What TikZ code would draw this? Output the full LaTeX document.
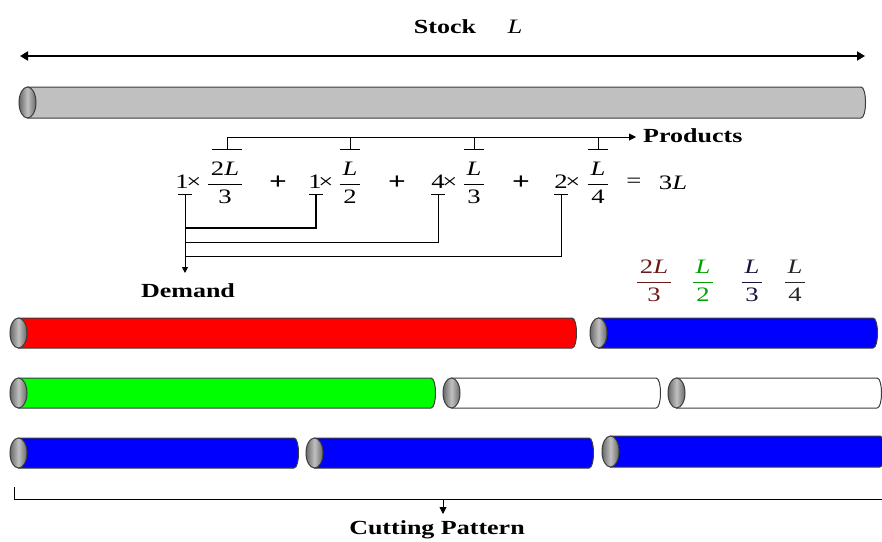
\documentclass[tikz,border=0pt]{standalone}
\usepackage{fontspec}
\setmainfont{Liberation Serif}[FakeStretch=1.3]
\usetikzlibrary{arrows.meta,calc}
\definecolor{edge}{RGB}{60,60,60}
\definecolor{capgray}{RGB}{130,130,130}
\definecolor{stockgray}{RGB}{192,192,192}
\definecolor{maroon}{RGB}{110,25,25}
\definecolor{lgreen}{RGB}{0,160,0}
\definecolor{navy}{RGB}{20,20,60}
\newcommand{\frc}[2]{$\displaystyle\frac{\mbox{\hspace{3pt}#1\hspace{3pt}}}{\mbox{#2}}$}
\newcommand{\tube}[5]{%
  \pgfmathsetmacro\tmid{(#3+#4)/2}%
  \pgfmathsetmacro\trad{(#4-#3)/2}%
  \draw[tubeline, fill=#5] (#1+8.5,#3) -- (#2-6,#3) .. controls (#2,#3) and (#2,#4) .. (#2-6,#4) -- (#1+8.5,#4) -- cycle;
  \draw[capline] (#1+8.5,\tmid) ellipse [x radius=8.5, y radius=\trad];
}
\tikzset{
  tubeline/.style={draw=edge, line width=1pt},
  capline/.style={draw=edge, line width=1pt, left color=capgray!80!black, right color=capgray!80!black, middle color=capgray!50!white},
  lbl/.style={font=\fontsize{20}{22}\selectfont\bfseries, inner sep=0pt},
  eq/.style={font=\fontsize{20.5}{23}\selectfont, inner sep=0pt},
  plus/.style={font=\fontsize{24}{26}\selectfont\bfseries, inner sep=0pt},
  thinl/.style={line width=0.9pt},
  tip/.style={-{Triangle[length=7pt,width=7pt]}},
}
\begin{document}
\begin{tikzpicture}[x=1pt,y=-1pt]
\useasboundingbox (0,0) rectangle (882,541);
% Stock
\node[lbl] (stock) at (445,27) {Stock};
\node[eq] (Lstock) at (515,27) {\textit{L}};
\coordinate (aL) at (20,56);
\coordinate (aR) at (865,56);
\draw[line width=1.8pt, {Triangle[length=8pt,width=9pt]}-{Triangle[length=8pt,width=9pt]}] (aL) -- (aR);
\tube{19}{867}{87}{118}{stockgray}
% equation
\node[eq] (c1) at (182,182) {1};
\node[eq] (x1) at (194,183) {×};
\node[eq] (f1) at (225,183) {\frc{2\textit{L}}{3}};
\node[plus] (pl1) at (278,183) {+};
\node[eq] (c2) at (315,182) {1};
\node[eq] (x2) at (326,183) {×};
\node[eq] (f2) at (350,183) {\frc{\textit{L}}{2}};
\node[plus] (pl2) at (397,183) {+};
\node[eq] (c3) at (438,182) {4};
\node[eq] (x3) at (450,183) {×};
\node[eq] (f3) at (474,183) {\frc{\textit{L}}{3}};
\node[plus] (pl3) at (521,183) {+};
\node[eq] (c4) at (561,182) {2};
\node[eq] (x4) at (573,183) {×};
\node[eq] (f4) at (598,183) {\frc{\textit{L}}{4}};
\node[eq] (eqs) at (634,183) {=};
\node[eq] (tot) at (673,183) {3\textit{L}};
% products
\coordinate (p1) at (227,137);
\coordinate (p2) at (350,137);
\coordinate (p3) at (474,137);
\coordinate (p4) at (598,137);
\coordinate (pend) at (636,137);
\node[lbl, anchor=west] (prod) at (643,136) {Products};
\draw[thinl, tip] (p1) -- (pend);
\foreach \p/\w in {p1/15, p2/10, p3/10, p4/10}{
  \draw[thinl] (\p) -- ++(0,12);
  \draw[thinl] ($(\p)+(-\w,12)$) -- ($(\p)+(\w,12)$);
}
% demand
\coordinate (d1) at (185,194);
\coordinate (d2) at (316,194);
\coordinate (d3) at (438,194);
\coordinate (d4) at (561,194);
\coordinate (dend) at (185,273);
\foreach \d in {d1,d2,d3,d4}{
  \draw[thinl] ($(\d)+(-7,0)$) -- ($(\d)+(7,0)$);
}
\draw[thinl, {-Triangle[length=6pt,width=6pt]}] (d1) -- (dend);
\draw[line width=2pt] (d2) |- (185,228);
\draw[thinl] (d3) |- (185,242);
\draw[thinl] (d4) |- (185,256);
\node[lbl] (demand) at (188,291) {Demand};
% legend
\node[eq, text=maroon] (g1) at (654,281) {\frc{2\textit{L}}{3}};
\node[eq, text=lgreen] (g2) at (703,281) {\frc{\textit{L}}{2}};
\node[eq, text=navy] (g3) at (752,281) {\frc{\textit{L}}{3}};
\node[eq, text=black!85] (g4) at (795,281) {\frc{\textit{L}}{4}};
% cutting patterns
\tube{10}{578}{318}{348}{red}
\tube{590}{879}{318}{348}{blue}
\tube{10}{437}{378}{408}{green}
\tube{443}{662}{378}{408}{white}
\tube{668}{883}{378}{408}{white}
\tube{10}{300}{438}{468}{blue}
\tube{306}{595}{438}{468}{blue}
\tube{602}{886}{436}{467}{blue}
% bottom bracket
\coordinate (b0) at (14,487);
\coordinate (b1) at (14,499);
\coordinate (b2) at (884,499);
\coordinate (bm) at (443,499);
\coordinate (bend) at (443,514);
\draw[thinl] (b0) -- (b1) -- (b2);
\draw[thinl, {-Triangle[length=7pt,width=7pt]}] (bm) -- (bend);
\node[lbl] (cut) at (437,530) {Cutting Pattern};
\end{tikzpicture}
\end{document}
